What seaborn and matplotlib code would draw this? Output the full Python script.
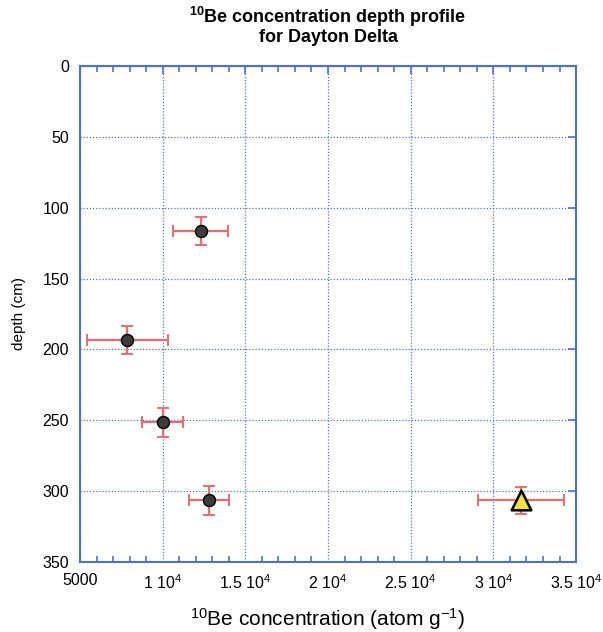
import numpy as np
import pandas as pd
import matplotlib
matplotlib.use('Agg')
import matplotlib.pyplot as plt
import seaborn as sns
from matplotlib.ticker import MultipleLocator, FixedLocator

# data
conc = [12300, 7850, 10000, 12800, 31700]
depth = [116.5, 193.5, 251.5, 306.5, 306.5]
conc_err = [1650, 2450, 1250, 1200, 2600]
depth_err = [10, 10, 10, 10, 9.5]
kind = ['sample', 'sample', 'sample', 'sample', 'surface']

xticks = [5000, 10000, 15000, 20000, 25000, 30000, 35000]
xlabels = ['5000', r'1 10$^4$', r'1.5 10$^4$', r'2 10$^4$', r'2.5 10$^4$', r'3 10$^4$', r'3.5 10$^4$']

df = pd.DataFrame({'conc': conc, 'depth': depth, 'kind': kind})

sns.set_style('white')
plt.rcParams['font.family'] = ['Liberation Sans', 'DejaVu Sans']
plt.rcParams['text.color'] = 'black'
plt.rcParams['axes.labelcolor'] = 'black'
plt.rcParams['mathtext.fontset'] = 'custom'
plt.rcParams['mathtext.rm'] = 'Liberation Sans'
plt.rcParams['mathtext.bf'] = 'Liberation Sans:bold'
plt.rcParams['mathtext.default'] = 'regular'

blue = '#4a72d6'

fig = plt.figure(figsize=(6.03, 6.32), dpi=100)
ax = fig.add_axes([0.1327, 0.1108, 0.8226, 0.7848])

ax.errorbar(conc, depth, xerr=conc_err, yerr=depth_err, fmt='none',
            ecolor='#ec6a6e', elinewidth=1.6, capsize=4, capthick=1.4, zorder=2)
sns.scatterplot(data=df[df.kind == 'sample'], x='conc', y='depth', ax=ax,
                color='#3c3c3c', edgecolor='black', linewidth=1, s=75, marker='o', zorder=3)
sns.scatterplot(data=df[df.kind == 'surface'], x='conc', y='depth', ax=ax,
                color='#f2e23a', edgecolor='black', linewidth=1.8, s=200, marker='^', zorder=3)

ax.set_xlim(5000, 35000)
ax.set_ylim(350, 0)
ax.xaxis.set_major_locator(FixedLocator(xticks))
ax.set_xticklabels(xlabels)
ax.xaxis.set_minor_locator(MultipleLocator(1000))
ax.yaxis.set_major_locator(MultipleLocator(50))

ax.grid(True, which='major', color=blue, linestyle=(0, (1, 1.5)), linewidth=0.9)
for s in ax.spines.values():
    s.set_color(blue)
    s.set_linewidth(1.5)
ax.tick_params(axis='both', which='major', direction='in', length=6, width=1.2,
               color=blue, labelsize=11.5, labelcolor='black',
               top=True, right=True, pad=8)
ax.tick_params(axis='x', which='minor', direction='in', length=4, width=1.2,
               color=blue, top=True, bottom=True)
ax.tick_params(axis='y', which='minor', left=False, right=False)

ax.set_xlabel(r'$^{10}$Be concentration (atom g$^{-1}$)', fontsize=15, labelpad=10)
ax.set_ylabel('depth (cm)', fontsize=11, labelpad=12)
ax.set_title('$^{10}$Be concentration depth profile\nfor Dayton Delta',
             fontsize=13, fontweight='bold', pad=17, linespacing=1.05)

fig.savefig('out.png', dpi=100)
